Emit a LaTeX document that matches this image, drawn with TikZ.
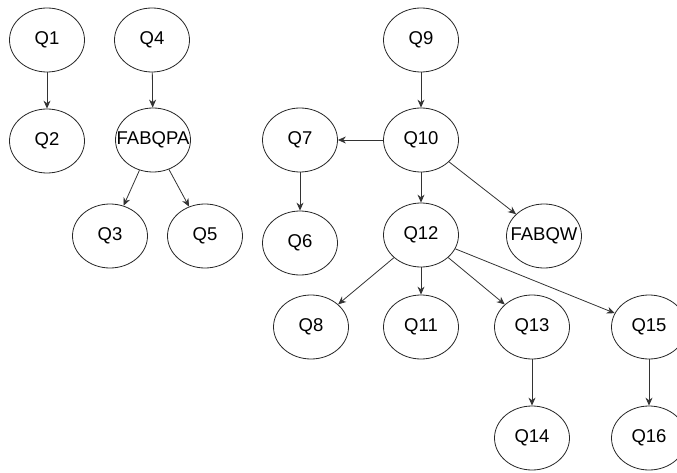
\documentclass[tikz,border=0pt]{standalone}
\usepackage{fontspec}
\setmainfont{Liberation Sans}
\usetikzlibrary{shapes.geometric,arrows.meta}
\begin{document}
\begin{tikzpicture}[x=1pt,y=-1pt,
  qnode/.style={ellipse,draw=black!85,line width=0.8pt,minimum width=75pt,minimum height=64pt,inner sep=0pt,font=\fontsize{18.5}{18.5}\selectfont},
  link/.style={draw=black!80,line width=0.8pt,-{Stealth[length=8pt,width=7pt]}}]
\useasboundingbox (0,0) rectangle (677,473);
% left trees
\node[qnode] (q1) at (47,40) {Q1};
\node[qnode] (q2) at (47,141) {Q2};
\node[qnode] (q4) at (152,40) {Q4};
\node[qnode,minimum width=75pt,minimum height=64pt,text width=0pt,align=center] (fa) at (153,140) {\makebox[0pt]{FABQPA}};
\node[qnode] (q3) at (110,236) {Q3};
\node[qnode] (q5) at (205,236) {Q5};
% right tree
\node[qnode] (q9) at (421,40) {Q9};
\node[qnode] (q10) at (421,140) {Q10};
\node[qnode] (q7) at (300,140) {Q7};
\node[qnode] (q6) at (300,243) {Q6};
\node[qnode] (q12) at (421,235) {Q12};
\node[qnode,text width=0pt,align=center] (fw) at (544,236) {\makebox[0pt]{FABQW}};
\node[qnode] (q8) at (311,327) {Q8};
\node[qnode] (q11) at (421,327) {Q11};
\node[qnode] (q13) at (532,327) {Q13};
\node[qnode] (q15) at (649,327) {Q15};
\node[qnode] (q14) at (532,438) {Q14};
\node[qnode] (q16) at (649,438) {Q16};
% connectors
\draw[link] (q1) -- (q2);
\draw[link] (q4) -- (fa);
\draw[link] (fa) -- (q3);
\draw[link] (fa) -- (q5);
\draw[link] (q9) -- (q10);
\draw[link] (q10) -- (q7);
\draw[link] (q7) -- (q6);
\draw[link] (q10) -- (q12);
\draw[link] (q10) -- (fw);
\draw[link] (q12) -- (q8);
\draw[link] (q12) -- (q11);
\draw[link] (q12) -- (q13);
\draw[link] (q12) -- (q15);
\draw[link] (q13) -- (q14);
\draw[link] (q15) -- (q16);
\end{tikzpicture}
\end{document}
